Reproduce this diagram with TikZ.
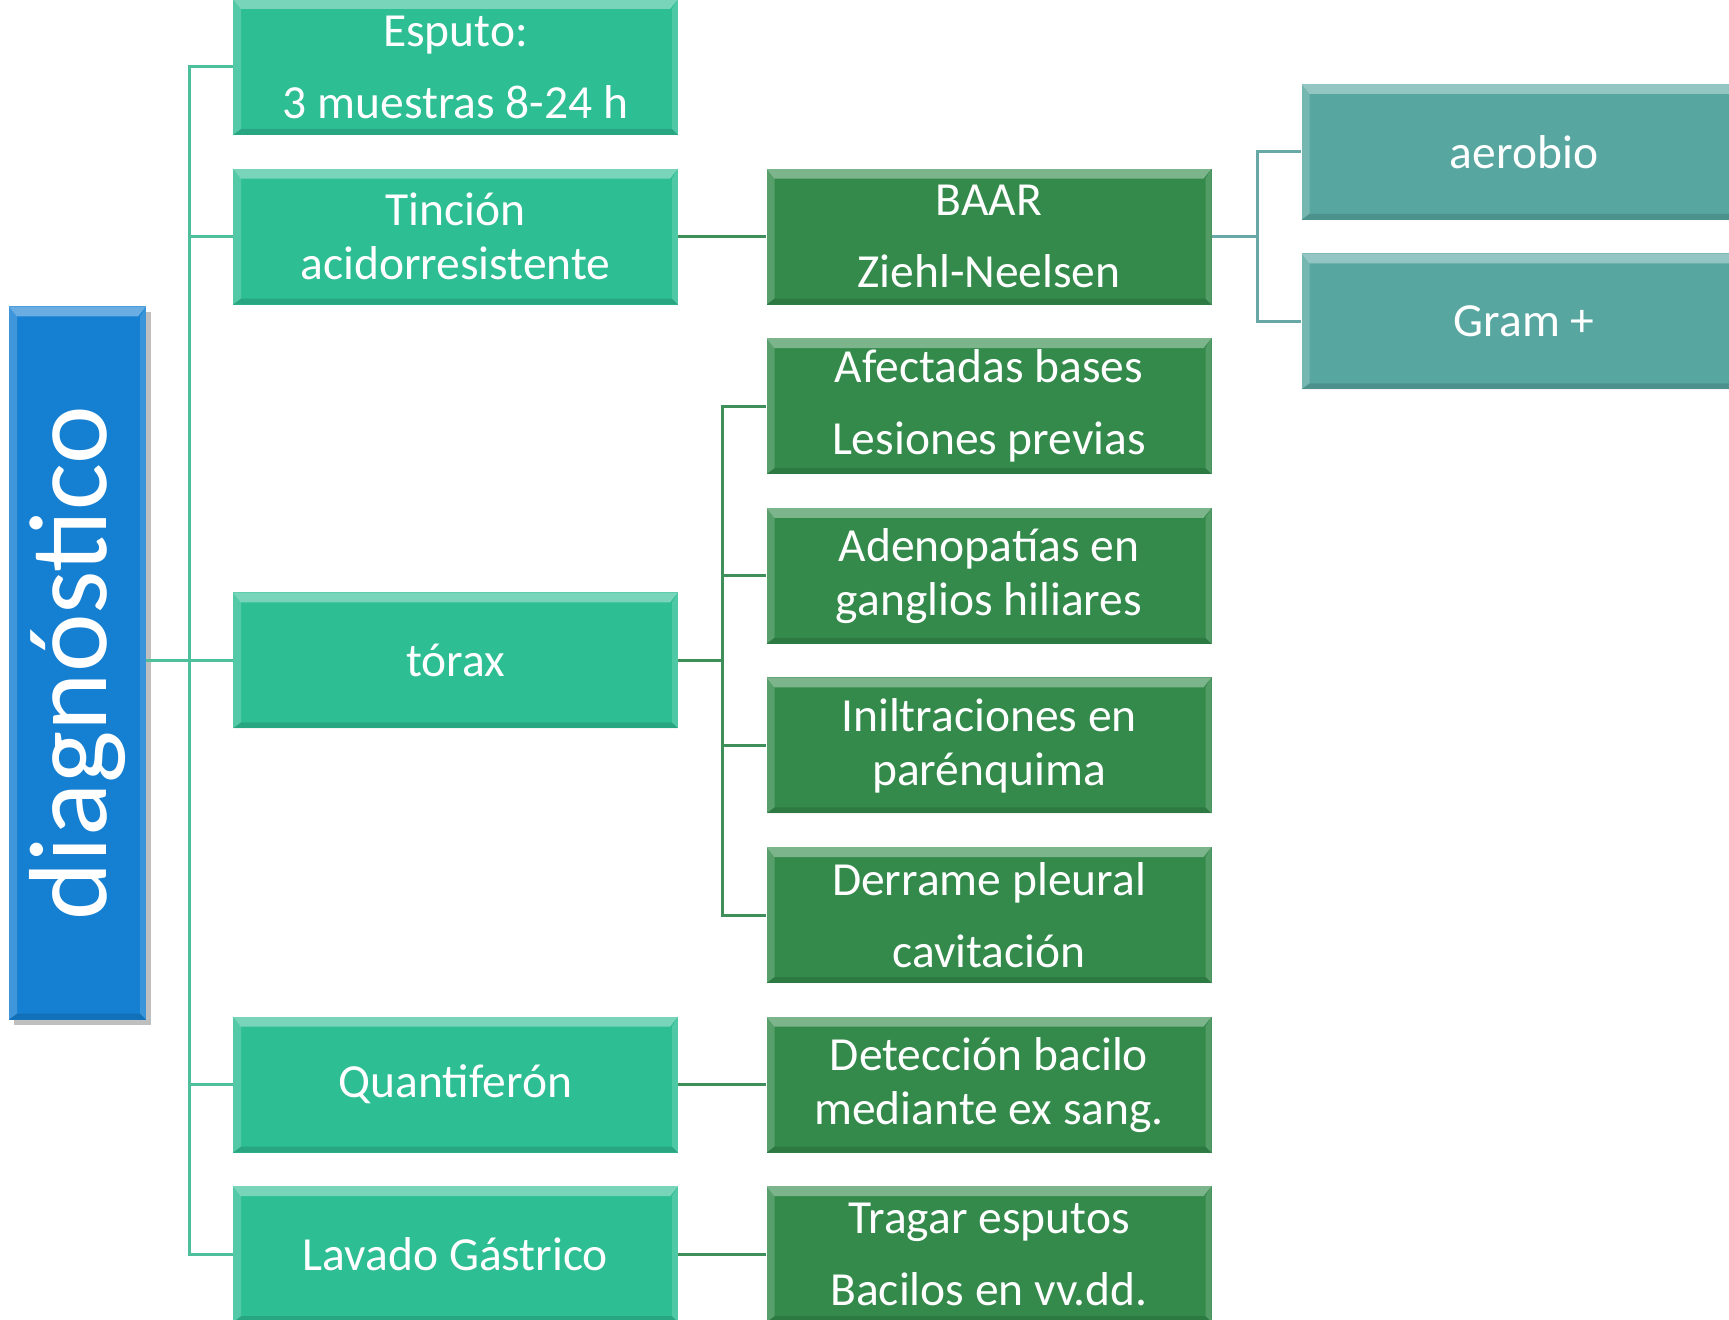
\documentclass[tikz,border=0pt]{standalone}
\usepackage{fontspec}
\setmainfont{Carlito}
\definecolor{rootblue}{HTML}{1580D2}
\definecolor{lvlone}{HTML}{2EBE94}
\definecolor{lvltwo}{HTML}{338A4B}
\definecolor{lvlthree}{HTML}{57A6A0}
\definecolor{linkone}{HTML}{4DBF9B}
\definecolor{linktwo}{HTML}{3E8F5A}
\definecolor{linkthree}{HTML}{68A9A8}
\begin{document}
\begin{tikzpicture}[x=0.5pt,y=-0.5pt,
  bevel/.style={path picture={
    % light top facet
    \fill[white,opacity=.36] (path picture bounding box.north west) -- (path picture bounding box.north east)
      -- ([shift={(-4pt,-5pt)}]path picture bounding box.north east) -- ([shift={(4pt,-5pt)}]path picture bounding box.north west) -- cycle;
    % light left facet
    \fill[white,opacity=.18] (path picture bounding box.north west) -- ([shift={(4pt,-5pt)}]path picture bounding box.north west)
      -- ([shift={(4pt,3pt)}]path picture bounding box.south west) -- (path picture bounding box.south west) -- cycle;
    % light right facet
    \fill[white,opacity=.16] (path picture bounding box.north east) -- ([shift={(-3pt,-5pt)}]path picture bounding box.north east)
      -- ([shift={(-3pt,3pt)}]path picture bounding box.south east) -- (path picture bounding box.south east) -- cycle;
    % dark bottom facet
    \fill[black,opacity=.12] (path picture bounding box.south west) -- (path picture bounding box.south east)
      -- ([shift={(-3pt,3pt)}]path picture bounding box.south east) -- ([shift={(4pt,3pt)}]path picture bounding box.south west) -- cycle;
  }},
  card/.style={rectangle, draw=none, fill=#1, bevel, text=white, align=center,
    minimum width=222.5pt, minimum height=68pt, inner sep=0pt,
    font=\fontsize{23.75}{27}\selectfont},
  lone/.style={card=lvlone},
  ltwo/.style={card=lvltwo},
  lthree/.style={card=lvlthree},
  link/.style={line width=1.5pt, draw=#1}]
\useasboundingbox (0,0) rectangle (1729,1320);

% root box with its shadow
\fill[black,opacity=.25] (14,312) rectangle (151,1025);
\node[card=rootblue, minimum width=68.5pt, minimum height=356.5pt] (root) at (77.5,663) {};
\node[text=white, rotate=90, font=\fontsize{55.5}{60}\selectfont] (roottext) at (77.5,663) {diagnóstico};

% first level
\node[lone] (esputo) at (455.5,67)   {Esputo:\\[9pt]3 muestras 8-24 h};
\node[lone] (tincion) at (455.5,236.6) {Tinción\\acidorresistente};
\node[lone] (torax) at (455.5,660.4)  {tórax};
\node[lone] (quanti) at (455.5,1084.6) {Quantiferón};
\node[lone] (lavado) at (455.5,1254.2) {Lavado Gástrico};

% second level
\node[ltwo] (baar) at (989,236.6)   {BAAR\\[9pt]Ziehl-Neelsen};
\node[ltwo] (afect) at (989,406.2)  {Afectadas bases\\[9pt]Lesiones previas};
\node[ltwo] (adeno) at (989,575.8)  {Adenopatías en\\ganglios hiliares};
\node[ltwo] (inil) at (989,745.4)   {Iniltraciones en\\parénquima};
\node[ltwo] (derr) at (989,915)     {Derrame pleural\\[9pt]cavitación};
\node[ltwo] (detec) at (989,1084.6) {Detección bacilo\\mediante ex sang.};
\node[ltwo] (tragar) at (989,1254.2) {Tragar esputos\\[9pt]Bacilos en vv.dd.};

% third level
\node[lthree] (aerobio) at (1524,151.8) {aerobio};
\node[lthree] (gram) at (1524,321.4)    {Gram +};

% bus points
\coordinate (busone) at (189,660.4);
\coordinate (bustwo) at (722,660.4);
\coordinate (busthree) at (1257,236.6);

% connectors from the root
\draw[link=linkone] (torax.west) -- (torax.west -| root.east);
\draw[link=linkone] (esputo.west) -| (busone);
\draw[link=linkone] (lavado.west) -| (busone);
\draw[link=linkone] (tincion.west) -- (tincion.west -| busone);
\draw[link=linkone] (quanti.west) -- (quanti.west -| busone);

% connectors to the second level
\draw[link=linktwo] (tincion.east) -- (baar.west);
\draw[link=linktwo] (quanti.east) -- (detec.west);
\draw[link=linktwo] (lavado.east) -- (tragar.west);
\draw[link=linktwo] (torax.east) -- (bustwo);
\draw[link=linktwo] (afect.west) -| (bustwo);
\draw[link=linktwo] (derr.west) -| (bustwo);
\draw[link=linktwo] (adeno.west) -- (adeno.west -| bustwo);
\draw[link=linktwo] (inil.west) -- (inil.west -| bustwo);

% connectors to the third level
\draw[link=linkthree] (baar.east) -- (busthree);
\draw[link=linkthree] (aerobio.west) -| (busthree);
\draw[link=linkthree] (gram.west) -| (busthree);
\end{tikzpicture}
\end{document}
